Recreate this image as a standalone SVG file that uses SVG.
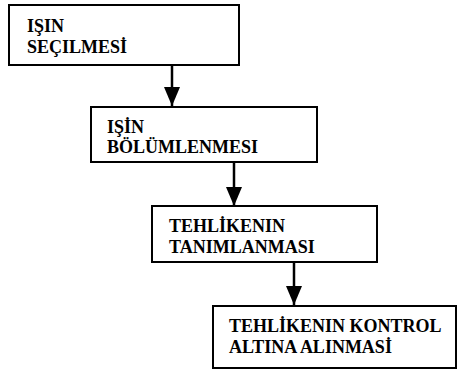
<svg xmlns="http://www.w3.org/2000/svg" width="462" height="377" viewBox="0 0 462 377">
<style>
.box{fill:#fff;stroke:#000;stroke-width:2}
.t{font-family:"Liberation Serif","Times New Roman",serif;font-weight:bold;font-size:18px;fill:#000}
.c{stroke:#000;stroke-width:2.5;fill:none}
</style>
<defs>
<marker id="ah" viewBox="0 0 19 16" refX="19" refY="8" markerWidth="19" markerHeight="16" markerUnits="userSpaceOnUse" orient="auto">
<path d="M0,0 L19,8 L0,16 Z" fill="#000"/>
</marker>
</defs>
<rect width="462" height="377" fill="#fff"/>
<g id="connectors">
<line class="c" x1="172" y1="65" x2="172" y2="106" marker-end="url(#ah)"/>
<line class="c" x1="234" y1="162" x2="234" y2="206" marker-end="url(#ah)"/>
<line class="c" x1="294" y1="262" x2="294" y2="305" marker-end="url(#ah)"/>
</g>
<g id="n1">
<rect class="box" x="9" y="5" width="230" height="60"/>
<text class="t" x="27" y="32">IŞIN</text>
<text class="t" x="27" y="53">SEÇILMESİ</text>
</g>
<g id="n2">
<rect class="box" x="91" y="107" width="226" height="55"/>
<text class="t" x="107" y="133">IŞİN</text>
<text class="t" x="107" y="153">BÖLÜMLENMESI</text>
</g>
<g id="n3">
<rect class="box" x="152" y="206" width="225" height="56"/>
<text class="t" x="169" y="232">TEHLİKENIN</text>
<text class="t" x="169" y="253">TANIMLANMASI</text>
</g>
<g id="n4">
<rect class="box" x="213" y="306" width="243" height="62"/>
<text class="t" x="229" y="332">TEHLİKENIN KONTROL</text>
<text class="t" x="229" y="353">ALTINA ALINMASİ</text>
</g>
</svg>
